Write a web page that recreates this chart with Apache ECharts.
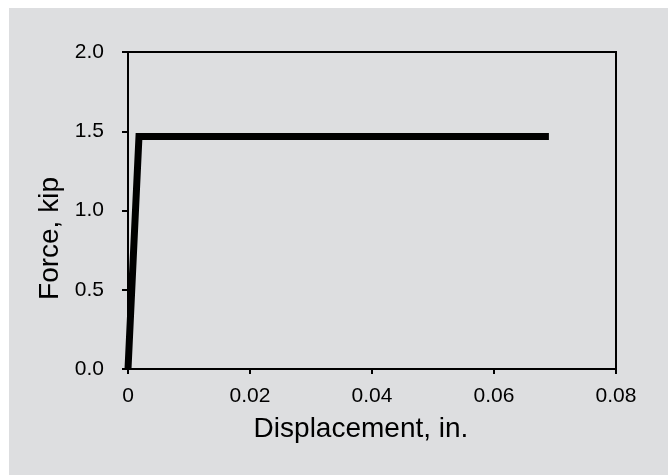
<!DOCTYPE html>
<html>
<head>
<meta charset="utf-8">
<script src="https://cdn.jsdelivr.net/npm/echarts@6/dist/echarts.min.js"></script>
<style>
  html, body { margin: 0; padding: 0; background: #ffffff; }
  #chart { width: 671px; height: 475px; }
</style>
</head>
<body>
<div id="chart"></div>
<script>
// Elastic-perfectly-plastic force–displacement curve
const displacement = [0, 0.0018, 0.069];   // in.
const force = [0, 1.467, 1.467];           // kip

const xTicks = { min: 0, max: 0.08, step: 0.02 };
const yTicks = { min: 0, max: 2.0, step: 0.5 };

const points = displacement.map((d, i) => [d, force[i]]);

const chart = echarts.init(document.getElementById('chart'), null, { renderer: 'canvas' });
const font = '"Liberation Sans", Arial, Helvetica, sans-serif';

chart.setOption({
  backgroundColor: '#ffffff',
  animation: false,
  graphic: [{
    type: 'rect',
    z: -10,
    silent: true,
    shape: { x: 9, y: 8, width: 659, height: 475 },
    style: { fill: '#dddee0' }
  }],
  grid: {
    left: 128, right: 55, top: 52, bottom: 106,
    show: true, borderColor: '#000', borderWidth: 2, backgroundColor: 'transparent'
  },
  xAxis: {
    type: 'value',
    min: xTicks.min, max: xTicks.max, interval: xTicks.step,
    name: 'Displacement, in.',
    nameLocation: 'middle',
    nameGap: 46,
    nameTextStyle: { fontFamily: font, fontSize: 28, color: '#000', padding: [0, 22, 0, 0] },
    axisLine: { show: true, lineStyle: { color: '#000', width: 2 } },
    axisTick: { show: true, inside: false, length: 5, lineStyle: { color: '#000', width: 2 } },
    axisLabel: {
      fontFamily: font, fontSize: 21, color: '#000', margin: 17,
      formatter: v => v === 0 ? '0' : v.toFixed(2)
    },
    splitLine: { show: false }
  },
  yAxis: {
    type: 'value',
    min: yTicks.min, max: yTicks.max, interval: yTicks.step,
    name: 'Force, kip',
    nameLocation: 'middle',
    nameGap: 47,
    nameTextStyle: { fontFamily: font, fontSize: 28, color: '#000', padding: [0, 56, 0, 0] },
    axisLine: { show: true, lineStyle: { color: '#000', width: 2 } },
    axisTick: { show: true, inside: false, length: 6, lineStyle: { color: '#000', width: 2 } },
    axisLabel: {
      fontFamily: font, fontSize: 21, color: '#000', margin: 24,
      formatter: v => v.toFixed(1)
    },
    splitLine: { show: false }
  },
  series: [{
    type: 'line',
    data: points,
    symbol: 'none',
    clip: true,
    lineStyle: { color: '#000', width: 7, cap: 'butt', join: 'miter' }
  }]
});
</script>
</body>
</html>
